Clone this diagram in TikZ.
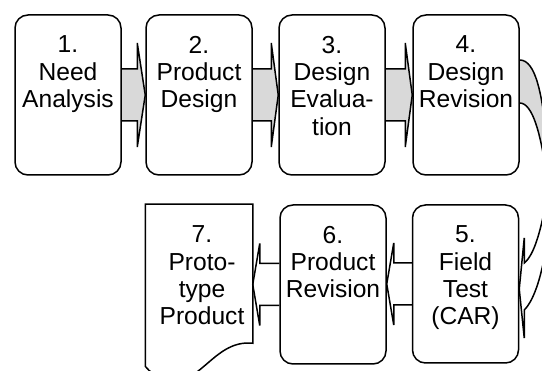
\documentclass[tikz,border=0pt]{standalone}
\usepackage{fontspec}
\setmainfont{Liberation Sans}
\usetikzlibrary{calc,backgrounds}
\definecolor{arrowgray}{RGB}{217,217,217}
\newcommand\rarrow[6]{%
  \draw[#6] let \p1=(#1.east), \p2=(#2.west) in
    (\x1,\y1+#3) -- (\x2-#5,\y1+#3) -- (\x2-#5,\y1+#4) -- (\x2,\y1)
    -- (\x2-#5,\y1-#4) -- (\x2-#5,\y1-#3) -- (\x1,\y1-#3);}
\newcommand\larrow[6]{%
  \draw[#6] let \p1=(#1.west), \p2=(#2.east) in
    (\x1,\y1+#3) -- (\x2+#5,\y1+#3) -- (\x2+#5,\y1+#4) -- (\x2,\y1)
    -- (\x2+#5,\y1-#4) -- (\x2+#5,\y1-#3) -- (\x1,\y1-#3);}
\begin{document}
\begin{tikzpicture}[x=1pt,y=-1pt, line width=1.5pt,
  box/.style={draw, line width=1.5pt, rounded corners=13pt, minimum width=106pt, minimum height=160pt, inner sep=0pt},
  docframe/.style={minimum width=106pt, minimum height=160pt, inner sep=0pt},
  lbl/.style={align=center, font=\fontsize{24.6}{27.3}\selectfont, inner sep=0pt, anchor=north},
  grayarrow/.style={draw, line width=1.5pt, fill=arrowgray},
  whitearrow/.style={draw, line width=1.5pt, fill=white},
  curveedge/.style={draw, line width=1.5pt}]
\useasboundingbox (0,0) rectangle (542,371);
\clip (0,0) rectangle (542,371);
% boxes
\node[box] (b1) at (68,95) {};
\node[box] (b2) at (199,95) {};
\node[box] (b3) at (332,95) {};
\node[box] (b4) at (466,95) {};
\node[box, minimum height=158pt] (b5) at (465.5,284) {};
\node[box, minimum height=159pt] (b6) at (333,284.5) {};
\node[docframe] (b7) at (199,285) {};
% document shape of box 7
\draw[line width=1.5pt] (b7.north west) -- (b7.north east) -- ($(b7.north east)+(0,139)$)
  .. controls ($(b7.north east)+(-37,135)$) and ($(b7.north east)+(-52,180)$) .. ($(b7.north east)+(-82,177)$)
  .. controls ($(b7.north east)+(-94,176)$) and ($(b7.north west)+(4,167)$) .. ($(b7.north west)+(0,162)$)
  -- cycle;
% labels
\node[lbl] (t1) at ($(b1.north)+(0,21)$) {1.\\Need\\Analysis};
\node[lbl] (t2) at ($(b2.north)+(0,21)$) {2.\\Product\\Design};
\node[lbl] (t3) at ($(b3.north)+(0,21)$) {3.\\Design\\Evalua-\\tion};
\node[lbl] (t4) at ($(b4.north)+(0,21)$) {4.\\Design\\Revision};
\node[lbl] (t5) at ($(b5.north)+(0,21)$) {5.\\Field\\Test\\(CAR)};
\node[lbl] (t6) at ($(b6.north)+(0,21)$) {6.\\Product\\Revision};
\node[lbl] (t7) at ($(b7.north)+(3,21)$) {7.\\Proto-\\type\\Product};
% straight block arrows
\begin{pgfonlayer}{background}
\rarrow{b1}{b2}{26pt}{52pt}{8pt}{grayarrow}
\rarrow{b2}{b3}{26pt}{52pt}{7pt}{grayarrow}
\rarrow{b3}{b4}{26pt}{52pt}{7pt}{grayarrow}
\larrow{b5}{b6}{21pt}{41pt}{7pt}{whitearrow}
\larrow{b6}{b7}{21pt}{41pt}{7pt}{whitearrow}
% curved arrow from 4 to 5
\coordinate (c1) at ($(b4.east)+(0,-35)$);
\coordinate (c2) at ($(b4.east)+(0,8)$);
\fill[arrowgray] (c1) .. controls ($(c1)+(16,0)$) and ($(c1)+(22,35)$) .. ($(c1)+(26,70)$)
  -- ($(c1)+(30,120)$) -- ($(c2)+(26,67)$)
  .. controls ($(c2)+(21,32)$) and ($(c2)+(13,0)$) .. (c2) -- cycle;
\draw[curveedge] (c1) .. controls ($(c1)+(16,0)$) and ($(c1)+(22,35)$) .. ($(c1)+(26,70)$);
\draw[curveedge] (c2) .. controls ($(c2)+(13,0)$) and ($(c2)+(21,32)$) .. ($(c2)+(26,67)$);
\coordinate (tip) at ($(b5.east)+(0,5)$);
\draw[whitearrow] ($(tip)+(28,-94)$) .. controls ($(tip)+(22,-59)$) and ($(tip)+(15,-34)$) .. ($(tip)+(5,-26)$)
  -- ($(tip)+(5,-51)$) -- (tip) -- ($(tip)+(5,49)$) -- ($(tip)+(5,21)$)
  .. controls ($(tip)+(15,11)$) and ($(tip)+(23,-14)$) .. ($(tip)+(28,-49)$);
\end{pgfonlayer}
\end{tikzpicture}
\end{document}
